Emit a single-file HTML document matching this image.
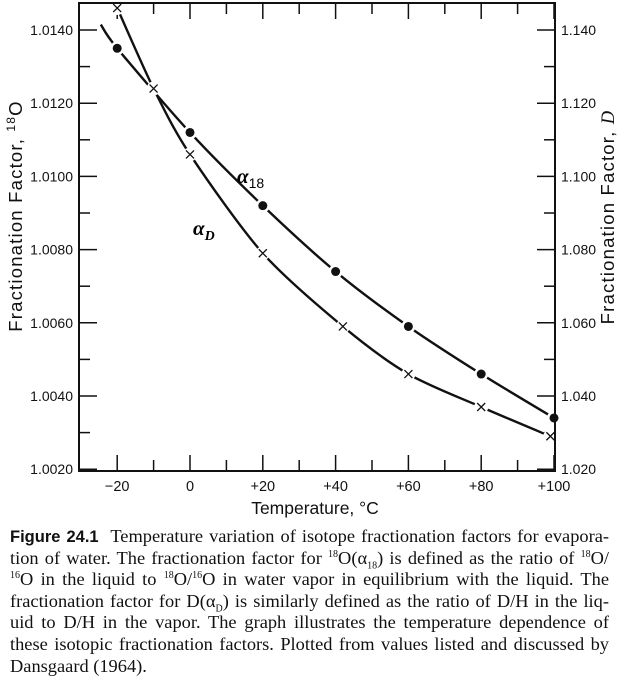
<!DOCTYPE html>
<html><head><meta charset="utf-8">
<style>
body{margin:0;background:#fff;width:621px;height:662px;overflow:hidden;position:relative;font-family:"Liberation Sans",sans-serif}
svg{position:absolute;left:0;top:0}
.cap{position:absolute;left:10px;width:599px;font-family:"Liberation Serif",serif;font-size:18.4px;line-height:21.6px;top:526px;color:#111}
.cap div{text-align:justify;text-align-last:justify;white-space:nowrap;height:21.6px}
.cap div.last{text-align-last:left}
.cap b{font-family:"Liberation Sans",sans-serif;font-weight:bold;font-size:16.5px}
sup,sub{font-size:10px;line-height:0}
</style></head><body>
<svg id="chart" width="621" height="520"></svg>
<div class="cap">
<div><b>Figure 24.1</b>&nbsp; Temperature variation of isotope fractionation factors for evapora-</div>
<div>tion of water. The fractionation factor for <sup>18</sup>O(α<sub>18</sub>) is defined as the ratio of <sup>18</sup>O/</div>
<div><sup>16</sup>O in the liquid to <sup>18</sup>O/<sup>16</sup>O in water vapor in equilibrium with the liquid. The</div>
<div>fractionation factor for D(α<sub>D</sub>) is similarly defined as the ratio of D/H in the liq-</div>
<div>uid to D/H in the vapor. The graph illustrates the temperature dependence of</div>
<div>these isotopic fractionation factors. Plotted from values listed and discussed by</div>
<div class="last">Dansgaard (1964).</div>
</div>
<script>
const xTicks=[-20,0,20,40,60,80,100];
const xTickLabels=["−20","0","+20","+40","+60","+80","+100"];
const yLeftTicks=[1.0020,1.0040,1.0060,1.0080,1.0100,1.0120,1.0140];
const yLeftLabels=["1.0020","1.0040","1.0060","1.0080","1.0100","1.0120","1.0140"];
const yRightTicks=[1.020,1.040,1.060,1.080,1.100,1.120,1.140];
const yRightLabels=["1.020","1.040","1.060","1.080","1.100","1.120","1.140"];
const o18Temps=[-20,0,20,40,60,80,100];
const o18Values=[1.0135,1.0112,1.0092,1.0074,1.0059,1.0046,1.0034];
const o18LeadTemp=[-24.5];
const o18LeadValue=[1.01415];
const dTemps=[-20,-10,0,20,42,60,80,99];
const dValues=[1.146,1.124,1.106,1.079,1.059,1.046,1.037,1.029];

const L=79,R=555,T=3,B=471;
const x=t=>190+(t)*3.64;
const yL=v=>30+(1.014-v)/0.002*73.2;
const yR=v=>30+(1.140-v)/0.020*73.2;
const svg=document.getElementById('chart');
const NS='http://www.w3.org/2000/svg';
function mk(tag,attrs,parent){const e=document.createElementNS(NS,tag);for(const k in attrs)e.setAttribute(k,attrs[k]);(parent||svg).appendChild(e);return e;}

const frame=mk('rect',{x:L,y:T,width:R-L,height:B-T,fill:'none',stroke:'#111','stroke-width':2});



for(let t=-30;t<=100;t+=10){
  const major=(t%20===0);
  const len=major?16:11;
  const px=x(t); if(px<L+2||px>R-1)continue;
  const a=mk('line',{x1:px,x2:px,y1:B,y2:B-len,stroke:'#111','stroke-width':1.5});
  
  
  const b=mk('line',{x1:px,x2:px,y1:T,y2:T+len,stroke:'#111','stroke-width':1.5});
  
  
}
xTicks.forEach((t,i)=>{
  const tx=mk('text',{x:x(t),y:491,'text-anchor':'middle','font-size':14.5,fill:'#111'});
  tx.textContent=xTickLabels[i];
  
  
});
for(let v=1.0020;v<=1.01461;v+=0.001){
  const py=yL(v); if(py<T+2||py>B-1)continue;
  const major=Math.round(v*10000)%20===0;
  const e=mk('line',{x1:L,x2:L+(major?18:11),y1:py,y2:py,stroke:'#111','stroke-width':1.5});
  
  
}
yLeftTicks.forEach((v,i)=>{
  const tx=mk('text',{x:73,y:yL(v)+5,'text-anchor':'end','font-size':14,fill:'#111'});
  tx.textContent=yLeftLabels[i];
  
  
});
for(let v=1.020;v<=1.1461;v+=0.010){
  const py=yR(v); if(py<T+2||py>B-1)continue;
  const major=Math.round(v*1000)%20===0;
  const e=mk('line',{x1:R,x2:R-(major?18:11),y1:py,y2:py,stroke:'#111','stroke-width':1.5});
  
  
}
yRightTicks.forEach((v,i)=>{
  const tx=mk('text',{x:561,y:yR(v)+5,'text-anchor':'start','font-size':14,fill:'#111'});
  tx.textContent=yRightLabels[i];
  
  
});

function smooth(pts){
  let d='M'+pts[0][0]+','+pts[0][1];
  for(let i=0;i<pts.length-1;i++){
    const p0=pts[i-1]||pts[i],p1=pts[i],p2=pts[i+1],p3=pts[i+2]||p2;
    const c1=[p1[0]+(p2[0]-p0[0])/7,p1[1]+(p2[1]-p0[1])/7];
    const c2=[p2[0]-(p3[0]-p1[0])/7,p2[1]-(p3[1]-p1[1])/7];
    d+=' C'+c1+' '+c2+' '+p2;
  }
  return d;
}
const o18pts=[[x(o18LeadTemp[0]),yL(o18LeadValue[0])]].concat(o18Temps.map((t,i)=>[x(t),yL(o18Values[i])]));
const dpts=dTemps.map((t,i)=>[x(t),yR(dValues[i])]);
const l1=mk('path',{d:smooth(o18pts),fill:'none',stroke:'#111','stroke-width':2.4});


const l2=mk('path',{d:smooth(dpts),fill:'none',stroke:'#111','stroke-width':2.4});


o18Temps.forEach((t,i)=>{
  const c=mk('circle',{cx:x(t),cy:yL(o18Values[i]),r:7,fill:'#fff'});
  
  
});
dTemps.forEach((t,i)=>{
  const c=mk('circle',{cx:x(t),cy:yR(dValues[i]),r:7,fill:'#fff'});
  
  
});
o18Temps.forEach((t,i)=>{
  const c=mk('circle',{cx:x(t),cy:yL(o18Values[i]),r:4.5,fill:'#111'});
  
  
});
dTemps.forEach((t,i)=>{
  const px=x(t),py=yR(dValues[i]);
  const g=mk('path',{d:`M${px-4},${py-4}L${px+4},${py+4}M${px-4},${py+4}L${px+4},${py-4}`,stroke:'#111','stroke-width':1.3});
  
  
});
frame.parentNode.appendChild(frame);
</script>
<svg width="621" height="520" style="pointer-events:none">
<text x="237" y="183" font-family="Liberation Serif,serif" font-style="italic" font-weight="bold" font-size="21">α<tspan font-size="14" dy="5" font-style="normal" font-family="Liberation Sans,sans-serif" font-weight="normal">18</tspan></text>
<text x="193" y="235" font-family="Liberation Serif,serif" font-style="italic" font-weight="bold" font-size="21">α<tspan font-size="14" dy="5" font-style="italic">D</tspan></text>
<text x="315" y="514" text-anchor="middle" font-size="17.5" fill="#111">Temperature,  °C</text>
<text transform="translate(22,216) rotate(-90)" text-anchor="middle" font-size="18.5" letter-spacing="1.2" fill="#111">Fractionation  Factor,  <tspan font-size="12" dy="-7">18</tspan><tspan dy="7">O</tspan></text>
<text transform="translate(614,217) rotate(-90)" text-anchor="middle" font-size="18.5" letter-spacing="1.2" fill="#111">Fractionation  Factor,  <tspan font-style="italic" font-family="Liberation Serif,serif">D</tspan></text>
</svg>
</body></html>
